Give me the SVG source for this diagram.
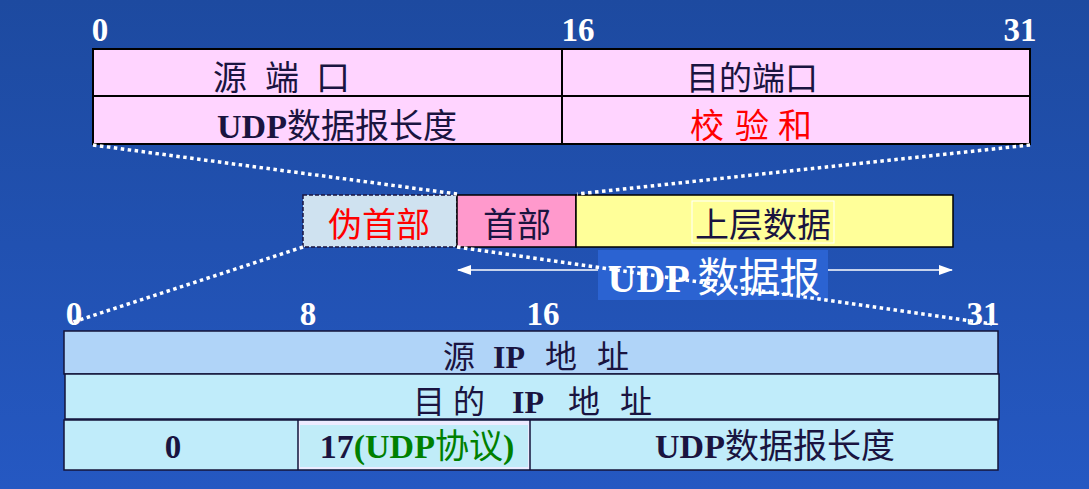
<svg xmlns="http://www.w3.org/2000/svg" width="1089" height="489" viewBox="0 0 1089 489">
<defs>
<linearGradient id="bg" x1="0" y1="0" x2="0" y2="1">
<stop offset="0" stop-color="#1d4aa0"/>
<stop offset="1" stop-color="#2558c2"/>
</linearGradient>
<marker id="ah" viewBox="0 0 14 10" refX="13" refY="5" markerWidth="14" markerHeight="10" markerUnits="userSpaceOnUse" orient="auto-start-reverse">
<path d="M0,0 L14,5 L0,10 Z" fill="#ffffff"/>
</marker>
<style>
.num{font-family:"Liberation Serif","Noto Sans CJK SC",serif;font-weight:bold;font-size:33px;fill:#ffffff}
.t{font-family:"Liberation Serif","Noto Sans CJK SC",serif;font-size:33px;fill:#1a1440}
.b{font-weight:bold}
.n{font-weight:normal}
.red{fill:#ff0000}
.green{fill:#008000}
.cell{stroke:#000000;stroke-width:2}
.bcell{stroke:#14143a;stroke-width:1.5}
.dots{fill:none;stroke:#ffffff;stroke-width:3.5;stroke-dasharray:3.5 3.5}
</style>
</defs>
<rect x="0" y="0" width="1089" height="489" fill="url(#bg)"/>

<g id="udp-header">
<rect class="cell" x="93" y="49" width="937" height="95" fill="#ffd4ff"/>
<line class="cell" x1="93" y1="96" x2="1030" y2="96"/>
<line class="cell" x1="562" y1="49" x2="562" y2="144"/>
<text class="num" x="100" y="41" text-anchor="middle">0</text>
<text class="num" x="578" y="41" text-anchor="middle">16</text>
<text class="num" x="1020" y="41" text-anchor="middle">31</text>
<text class="t" x="213 265 316" y="90" style="font-size:34px">源端口</text>
<text class="t" x="752" y="90" text-anchor="middle">目的端口</text>
<text class="t" x="337" y="138" text-anchor="middle" style="font-size:34px"><tspan class="b">UDP</tspan>数据报长度</text>
<text class="t red" x="690 735 778" y="138" style="font-size:34px">校验和</text>
</g>

<g id="pseudo-header-box">
<rect x="303" y="195" width="154" height="52" fill="#cfe2f0" stroke="#1a1440" stroke-width="1.5" stroke-dasharray="4 2"/>
<text class="t red" x="379" y="237" text-anchor="middle" style="font-size:34px">伪首部</text>
</g>
<g id="header-box">
<rect x="457" y="195" width="119" height="52" fill="#ff99cc" stroke="#000000" stroke-width="1.5"/>
<text class="t" x="517" y="237" text-anchor="middle" style="font-size:34px">首部</text>
</g>
<g id="data-box">
<rect x="576" y="195" width="377" height="52" fill="#ffff99" stroke="#000000" stroke-width="1.5"/>
<rect x="692" y="201" width="142" height="42" fill="none" stroke="#ffffff" stroke-width="1"/>
<text class="t" x="763" y="237" text-anchor="middle" style="font-size:34px">上层数据</text>
</g>

<g id="connectors">
<line class="dots" x1="93" y1="145" x2="457" y2="194"/>
<line class="dots" x1="1030" y1="145" x2="577" y2="194"/>
<line class="dots" x1="303" y1="247" x2="70" y2="323"/>
<line x1="458" y1="270" x2="952" y2="270" stroke="#ffffff" stroke-width="1.5" marker-start="url(#ah)" marker-end="url(#ah)"/>
</g>

<g id="udp-label">
<rect x="598" y="250" width="230" height="50" fill="#2b63d2"/>
<text x="714" y="292" text-anchor="middle" style="font-family:'Liberation Serif','Noto Sans CJK SC',serif;fill:#ffffff"><tspan style="font-weight:bold;font-size:40px">UDP </tspan><tspan style="font-size:41px">数据报</tspan></text>
</g>

<g id="connectors-over">
<line class="dots" x1="457" y1="247" x2="992" y2="324"/>
</g>

<g id="pseudo-header">
<text class="num" x="74" y="325" text-anchor="middle">0</text>
<text class="num" x="308" y="325" text-anchor="middle">8</text>
<text class="num" x="543" y="325" text-anchor="middle">16</text>
<text class="num" x="983" y="325" text-anchor="middle">31</text>
<rect class="bcell" x="64" y="331" width="934" height="43" fill="#b0d4f8"/>
<rect class="bcell" x="65" y="374" width="934" height="45" fill="#c0ecfa"/>
<rect class="bcell" x="64" y="420" width="934" height="50" fill="#c0ecfa"/>
<rect x="298" y="421" width="232" height="48" fill="#ececff"/>
<rect x="300" y="425" width="228" height="42" fill="#c0ecf8"/>
<line class="bcell" x1="298" y1="420" x2="298" y2="470"/>
<line class="bcell" x1="530" y1="420" x2="530" y2="470"/>
<text class="t" y="368" style="font-size:32px"><tspan x="443">源</tspan><tspan x="493" class="b">IP</tspan><tspan x="545">地</tspan><tspan x="597">址</tspan></text>
<text class="t" y="413" style="font-size:32px"><tspan x="413">目</tspan><tspan x="453">的</tspan><tspan x="512" class="b">IP</tspan><tspan x="568">地</tspan><tspan x="620">址</tspan></text>
<text class="t b" x="173" y="458" text-anchor="middle">0</text>
<text class="t b" x="417" y="458" text-anchor="middle" style="font-size:34px">17<tspan class="green">(UDP<tspan class="n">协议</tspan>)</tspan></text>
<text class="t" x="775" y="458" text-anchor="middle" style="font-size:34px"><tspan class="b">UDP</tspan>数据报长度</text>
</g>
</svg>
